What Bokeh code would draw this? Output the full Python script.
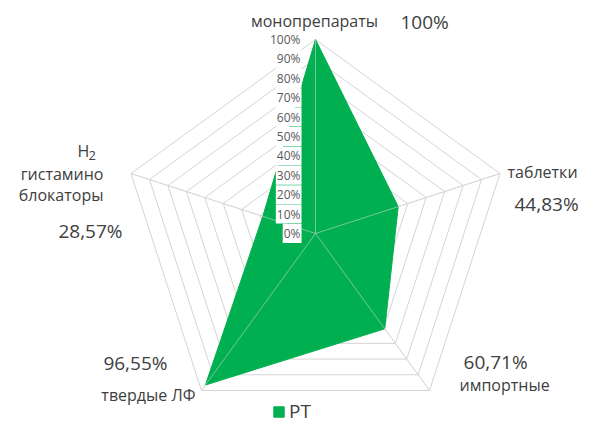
import numpy as np
from bokeh.plotting import figure
from bokeh.models import Range1d, Legend, LegendItem, ColumnDataSource
from bokeh.core.properties import value
from bokeh.embed import file_html
from bokeh.resources import INLINE

categories = ["монопрепараты", "таблетки", "импортные", "твердые ЛФ", "H2 гистамино блокаторы"]
values_pct = [100.0, 44.83, 60.71, 96.55, 28.57]
value_labels = ["100%", "44,83%", "60,71%", "96,55%", "28,57%"]
tick_values = [0, 10, 20, 30, 40, 50, 60, 70, 80, 90, 100]
tick_labels = ["0%", "10%", "20%", "30%", "40%", "50%", "60%", "70%", "80%", "90%", "100%"]
series_name = "РТ"

GREEN = "#00B050"
GRID = "#d4d4d4"
TXT = "#404040"
FONT = "Open Sans"

W, H = 590, 424
SCALE = 194.0
CX, CY = 315.0, 233.0  # centre in figure pixels (from top-left)

p = figure(width=W, height=H, output_backend="svg", toolbar_location=None,
           x_range=Range1d(-CX / SCALE, (W - CX) / SCALE),
           y_range=Range1d(-(H - CY) / SCALE, CY / SCALE),
           min_border=0, outline_line_color=None)
p.axis.visible = False
p.grid.visible = False
p.background_fill_color = "white"

n = len(categories)
angles = np.pi / 2 - 2 * np.pi * np.arange(n) / n
ux, uy = np.cos(angles), np.sin(angles)

# rings
ring_xs = [list(np.append(ux, ux[0]) * t / 100) for t in tick_values[1:]]
ring_ys = [list(np.append(uy, uy[0]) * t / 100) for t in tick_values[1:]]
p.multi_line(ring_xs, ring_ys, line_color=GRID, line_width=1)
# spokes under
p.segment(x0=[0] * n, y0=[0] * n, x1=list(ux), y1=list(uy), line_color=GRID, line_width=1)

# series
r = np.array(values_pct) / 100
patch = p.patch(list(ux * r), list(uy * r), fill_color=GREEN, line_color=GREEN, line_width=1)

# spokes over
p.segment(x0=[0] * n, y0=[0] * n, x1=list(ux), y1=list(uy), line_color="#d9d9d9", line_alpha=0.55, line_width=1)

# tick labels along top axis
tsrc = ColumnDataSource(dict(x=[0] * len(tick_values), y=[t / 100 for t in tick_values], t=tick_labels))
p.text(x="x", y="y", text="t", source=tsrc, x_offset=-14, text_align="right", text_baseline="middle",
       text_font=value(FONT), text_font_size="12px", text_color="#595959",
       background_fill_color="white", padding=1)

# category and value labels (offsets relative to outer vertex, in pixels)
cat_lines = [["монопрепараты"], ["таблетки"], ["импортные"], ["твердые ЛФ"], ["гистамино", "блокаторы"]]
cat_off = [[(-1, -19)], [(7.5, -2)], [(30, -5)], [(-6, 5)], [(-27.5, 0), (-27.5, 21)]]
cat_align = ["center", "left", "left", "right", "right"]
val_off = [(85, -18), (14.5, 30), (34, -28), (-34, -27), (-8.5, 57)]
val_align = ["left", "left", "left", "right", "right"]

for i in range(n):
    for line, (dx, dy) in zip(cat_lines[i], cat_off[i]):
        p.text(x=[ux[i]], y=[uy[i]], text=[line], x_offset=dx, y_offset=dy,
               text_align=cat_align[i], text_baseline="middle",
               text_font=value(FONT), text_font_size="16px", text_color=TXT)
    p.text(x=[ux[i]], y=[uy[i]], text=[value_labels[i]], x_offset=val_off[i][0], y_offset=val_off[i][1],
           text_align=val_align[i], text_baseline="middle",
           text_font=value(FONT), text_font_size="19px", text_color=TXT)

# H2 label
p.text(x=[ux[4]], y=[uy[4]], text=["H"], x_offset=-53.5, y_offset=-23, text_align="left",
       text_baseline="middle", text_font=value(FONT), text_font_size="16px", text_color=TXT)
p.text(x=[ux[4]], y=[uy[4]], text=["2"], x_offset=-42.5, y_offset=-18, text_align="left",
       text_baseline="middle", text_font=value(FONT), text_font_size="13px", text_color=TXT)

legend = Legend(items=[LegendItem(label=series_name, renderers=[patch])],
                location=(272, 0), orientation="horizontal",
                glyph_width=13, glyph_height=13, label_standoff=4, label_height=22,
                label_text_font=FONT, label_text_font_size="19px", label_text_color=TXT,
                border_line_color=None, background_fill_alpha=0, padding=0, margin=0, spacing=0)
p.add_layout(legend, "center")

open("out.html", "w").write(file_html(p, INLINE))
